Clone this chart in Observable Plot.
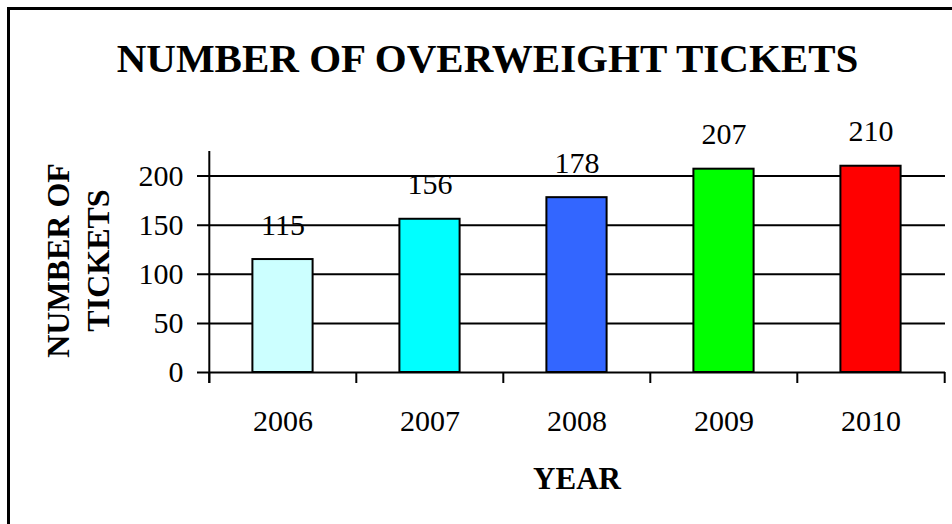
<!DOCTYPE html>
<html>
<head>
<meta charset="utf-8">
<script src="https://cdn.jsdelivr.net/npm/d3@7"></script>
<script src="https://cdn.jsdelivr.net/npm/@observablehq/plot@0.6"></script>
<style>
  html, body { margin: 0; padding: 0; background: #fff; }
  #wrap { position: relative; width: 952px; height: 524px; overflow: hidden; background: #fff; }
  #wrap svg { position: absolute; left: 0; top: 0; }
  #border { position: absolute; left: 7px; top: 7px; right: -10px; bottom: -10px; border-left: 3px solid #000; border-top: 3px solid #000; pointer-events: none; }
</style>
</head>
<body>
<div id="wrap"><div id="border"></div></div>
<script>
const years = ["2006", "2007", "2008", "2009", "2010"];
const tickets = [115, 156, 178, 207, 210];
const barColors = ["#CCFFFF", "#00FFFF", "#3366FF", "#00FF00", "#FF0000"];
const yTicks = [0, 50, 100, 150, 200];
const title = "NUMBER OF OVERWEIGHT TICKETS";
const xLabel = "YEAR";
const yLabel = "NUMBER OF\nTICKETS";

const data = years.map((y, i) => ({year: y, tickets: tickets[i], color: barColors[i]}));

const W = 952, H = 524, mL = 208, mR = 7, mT = 151, mB = 152;
const step = (W - mL - mR) / years.length;
const font = "'Liberation Serif', 'Times New Roman', serif";

const chart = Plot.plot({
  width: W, height: H,
  marginLeft: mL, marginRight: mR, marginTop: mT, marginBottom: mB,
  style: {fontFamily: font, fontSize: "30px", color: "#000", background: "transparent", overflow: "visible"},
  x: {domain: years, padding: 0, label: null, tickSize: 0, tickPadding: 37},
  y: {domain: [0, 225], label: null, ticks: yTicks, tickSize: 0, tickPadding: 25},
  color: {type: "identity"},
  marks: [
    Plot.ruleY(yTicks, {stroke: "#000", strokeWidth: 2, insetLeft: -11}),
    Plot.ruleX([years[0]], {y1: 0, y2: 225, insetTop: 11, dx: -step / 2, stroke: "#000", strokeWidth: 2}),
    Plot.ruleX(years, {x: d => d, y1: 0, y2: 0, insetTop: 11, dx: -step / 2, stroke: "#000", strokeWidth: 2}),
    Plot.ruleX([years[years.length - 1]], {x: d => d, y1: 0, y2: 0, insetTop: 11, dx: step / 2, stroke: "#000", strokeWidth: 2}),
    Plot.barY(data, {x: "year", y: "tickets", fill: "color", stroke: "#000", strokeWidth: 2, insetLeft: 43.4, insetRight: 43.4}),
    Plot.text(data, {x: "year", y: "tickets", text: d => String(d.tickets), dy: -34.6, fontSize: 30}),
    Plot.text([title], {text: d => d, frameAnchor: "top", lineAnchor: "middle", dx: -89.5, dy: -93.1, fontSize: 41, fontWeight: "bold"}),
    Plot.text([xLabel], {text: d => d, frameAnchor: "bottom", dx: 0, dy: 116, fontSize: 31, fontWeight: "bold"}),
    Plot.text([yLabel], {text: d => d, frameAnchor: "left", textAnchor: "middle", lineAnchor: "middle", dx: -132, dy: -1.5, rotate: -90, fontSize: 32, fontWeight: "bold", lineHeight: 1.25})
  ]
});

document.getElementById("wrap").insertBefore(chart, document.getElementById("border"));
</script>
</body>
</html>
